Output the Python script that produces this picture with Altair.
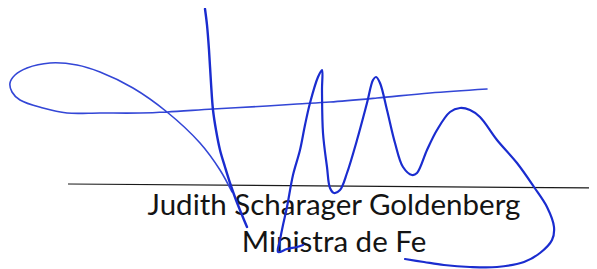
import altair as alt
import pandas as pd

# Signature strokes (reference pixel coordinates)
stroke_a_x = [205, 207, 209, 211, 213, 216, 220, 225, 230, 236, 242, 247]
stroke_a_y = [9, 25, 50, 83, 110, 130, 150, 167, 183, 200, 215, 227]

stroke_b_x = [487, 430, 377, 330, 297, 267, 213, 167, 140, 100, 67, 43, 20, 12, 10, 15, 27, 50, 77, 100, 133, 167, 200, 220, 232]
stroke_b_y = [89, 93, 98, 102, 104, 106, 109, 112, 113, 113, 113, 108, 100, 92, 83, 75, 68, 63, 65, 72, 88, 112, 143, 170, 192]

stroke_c_x = [303, 297, 287, 278, 280, 283, 287, 293, 300, 305, 310, 318, 322, 322, 323, 327, 330, 334, 340, 347, 357, 367, 373, 376, 380, 387, 395, 403, 412, 417, 427, 437, 450, 460, 470, 480, 497, 517, 534, 547, 554, 552, 540, 524, 497, 470, 444, 424, 405]
stroke_c_y = [245, 247, 249, 252, 240, 225, 207, 175, 150, 125, 103, 77, 70, 90, 133, 167, 188, 193, 190, 173, 140, 103, 80, 77, 83, 110, 143, 167, 175, 173, 150, 130, 112, 108, 110, 117, 140, 163, 187, 207, 227, 240, 253, 262, 267, 267, 265, 262, 259]

rule_x = [68]
rule_x2 = [597]
rule_y = [184]
rule_y2 = [188]

text_lines = ["Judith Scharager Goldenberg", "Ministra de Fe"]
text_x = [334, 334]
text_y = [215, 252]

xs = alt.Scale(domain=[8, 589], nice=False, zero=False)
ys = alt.Scale(domain=[8, 269], nice=False, zero=False, reverse=True)


def stroke_df(xv, yv):
    return pd.DataFrame({"x": xv, "y": yv, "o": list(range(len(xv)))})


def stroke(df, color, width):
    return alt.Chart(df).mark_line(
        color=color, strokeWidth=width, interpolate="catmull-rom", clip=False,
        strokeCap="round", strokeJoin="round"
    ).encode(
        x=alt.X("x:Q", scale=xs, axis=None),
        y=alt.Y("y:Q", scale=ys, axis=None),
        order="o:Q",
    )


rule_df = pd.DataFrame({"x": rule_x, "x2": rule_x2, "y": rule_y, "y2": rule_y2})
rule = alt.Chart(rule_df).mark_rule(color="#1a1a1a", strokeWidth=1.2, clip=False).encode(
    x=alt.X("x:Q", scale=xs, axis=None), x2="x2:Q",
    y=alt.Y("y:Q", scale=ys, axis=None), y2="y2:Q",
)

text_df = pd.DataFrame({"t": text_lines, "x": text_x, "y": text_y})
text = alt.Chart(text_df).mark_text(
    font="Lato", fontSize=29.5, color="#141414", align="center", baseline="alphabetic", clip=False
).encode(
    x=alt.X("x:Q", scale=xs, axis=None),
    y=alt.Y("y:Q", scale=ys, axis=None),
    text="t:N",
)

chart = alt.layer(
    rule,
    text,
    stroke(stroke_df(stroke_b_x, stroke_b_y), "#3346d6", 1.6),
    stroke(stroke_df(stroke_a_x, stroke_a_y), "#1a2ccf", 2.4),
    stroke(stroke_df(stroke_c_x, stroke_c_y), "#1a2ccf", 2.2),
).properties(
    width=581, height=261,
    autosize=alt.AutoSizeParams(type="none"),
    padding=0,
).configure_view(stroke=None)

chart.save("out.html", embed_options={"renderer": "svg", "actions": False})
